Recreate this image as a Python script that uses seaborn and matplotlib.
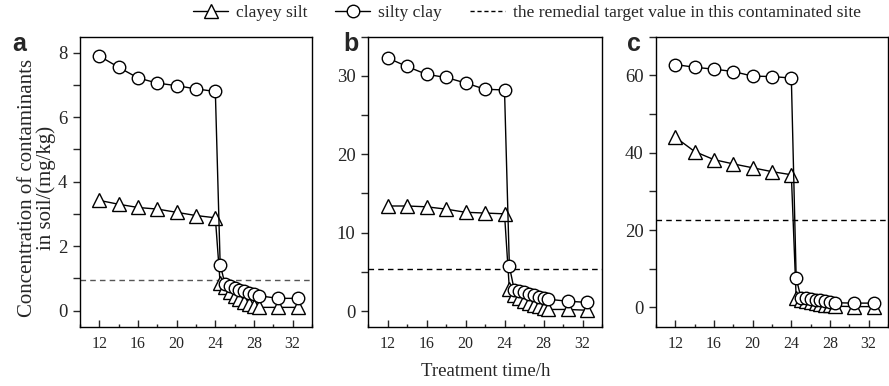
import matplotlib
matplotlib.use("Agg")
import matplotlib.pyplot as plt
from matplotlib.lines import Line2D
from matplotlib.ticker import MultipleLocator
import numpy as np
import pandas as pd
import seaborn as sns

# Sampling times (h)
times = [12, 14, 16, 18, 20, 22, 24, 24.5, 25, 25.5, 26, 26.5, 27, 27.5, 28, 28.5, 30.5, 32.5]

# Panel a
a_clayey_silt = [3.42, 3.3, 3.2, 3.15, 3.05, 2.95, 2.88, 0.85, 0.72, 0.58, 0.45, 0.35, 0.27, 0.2, 0.14, 0.1, 0.1, 0.1]
a_silty_clay = [7.9, 7.55, 7.22, 7.06, 6.98, 6.88, 6.8, 1.43, 0.82, 0.76, 0.7, 0.65, 0.6, 0.55, 0.5, 0.46, 0.38, 0.38]
a_target = 0.94

# Panel b
b_clayey_silt = [13.4, 13.4, 13.3, 13.0, 12.6, 12.5, 12.4, 2.8, 2.0, 1.6, 1.3, 1.0, 0.8, 0.6, 0.4, 0.2, 0.2, 0.1]
b_silty_clay = [32.3, 31.2, 30.2, 29.8, 29.1, 28.3, 28.2, 5.7, 2.7, 2.6, 2.4, 2.2, 2.0, 1.8, 1.6, 1.5, 1.25, 1.1]
b_target = 5.4

# Panel c
c_clayey_silt = [44.0, 40.3, 38.2, 37.1, 36.1, 35.1, 34.3, 2.5, 1.8, 1.6, 1.4, 1.2, 1.0, 0.7, 0.5, 0.3, 0.2, 0.2]
c_silty_clay = [62.8, 62.1, 61.6, 61.0, 59.8, 59.7, 59.3, 7.6, 2.4, 2.3, 2.2, 2.0, 1.9, 1.7, 1.5, 1.2, 1.1, 1.1]
c_target = 22.7

panel_letters = ["a", "b", "c"]
x_ticks = [12, 16, 20, 24, 28, 32]
series_names = ["clayey silt", "silty clay", "the remedial target value in this contaminated site"]

sns.set_style("ticks")
plt.rcParams["font.family"] = ["Liberation Serif", "DejaVu Serif"]

fig = plt.figure(figsize=(8.89, 3.86), dpi=100)

W, H = 889.0, 386.0
ax_boxes = [(80, 232), (368, 234), (656, 232)]
letter_x = [12, 343, 627]
top_px, bot_px = 36.7, 326.7

panels = [
    (a_clayey_silt, a_silty_clay, a_target, (-0.5, 8.5), 2, 1, "#555555"),
    (b_clayey_silt, b_silty_clay, b_target, (-2, 35), 10, 5, "black"),
    (c_clayey_silt, c_silty_clay, c_target, (-5, 70), 20, 10, "black"),
]

marker_kw = dict(color="black", linewidth=1.0, markerfacecolor="white",
                 markeredgecolor="black", markeredgewidth=1.0)
tri_size, circ_size = 9.5, 9

for i, ((left, width), (silt, clay, target, ylim, ymaj, ymin, tcol)) in enumerate(zip(ax_boxes, panels)):
    ax = fig.add_axes([left / W, (H - bot_px) / H, width / W, (bot_px - top_px) / H])
    df = pd.DataFrame({"t": times, "silt": silt, "clay": clay})
    ax.axhline(target, color=tcol, linewidth=1.0, linestyle=(0, (4, 3)), zorder=1)
    sns.lineplot(data=df, x="t", y="silt", ax=ax, marker="^", markersize=tri_size,
                 estimator=None, sort=False, zorder=2, **marker_kw)
    sns.lineplot(data=df, x="t", y="clay", ax=ax, marker="o", markersize=circ_size,
                 estimator=None, sort=False, zorder=3, **marker_kw)
    ax.set_xlim(10, 34)
    ax.set_ylim(*ylim)
    ax.set_xticks(x_ticks)
    ax.xaxis.set_minor_locator(MultipleLocator(2))
    ax.yaxis.set_major_locator(MultipleLocator(ymaj))
    ax.yaxis.set_minor_locator(MultipleLocator(ymin))
    ax.tick_params(axis="x", which="major", direction="in", length=5, width=1, labelsize=11.5, pad=7)
    ax.tick_params(axis="x", which="minor", direction="in", length=2.5, width=1)
    ax.tick_params(axis="y", which="major", direction="out", length=5, width=1, labelsize=13.5, pad=4)
    ax.tick_params(axis="y", which="minor", direction="out", length=5, width=1)
    ax.set_xlabel("")
    ax.set_ylabel("")
    for sp in ax.spines.values():
        sp.set_linewidth(1.0)
        sp.set_color("black")
    fig.text(letter_x[i] / W, 1 - 44 / H, panel_letters[i], family="Liberation Sans",
             fontweight="bold", fontsize=18, ha="left", va="center")

fig.text(37 / W, 1 - 188 / H, "Concentration of contaminants\nin soil/(mg/kg)",
         rotation=90, ha="center", va="center", fontsize=15, linespacing=1.0)
fig.text(486 / W, 1 - 372 / H, "Treatment time/h", ha="center", va="center", fontsize=13.5)

handles = [
    Line2D([], [], marker="^", markersize=tri_size, **marker_kw),
    Line2D([], [], marker="o", markersize=circ_size, **marker_kw),
    Line2D([], [], color="black", linewidth=1.0, linestyle=(0, (3, 2))),
]
fig.legend(handles, series_names, loc="center", bbox_to_anchor=(527 / W, 1 - 13 / H),
           ncol=3, frameon=False, fontsize=12.6, handlelength=2.0, handletextpad=0.45,
           columnspacing=1.6, borderaxespad=0)

fig.savefig("out.png", dpi=100)
